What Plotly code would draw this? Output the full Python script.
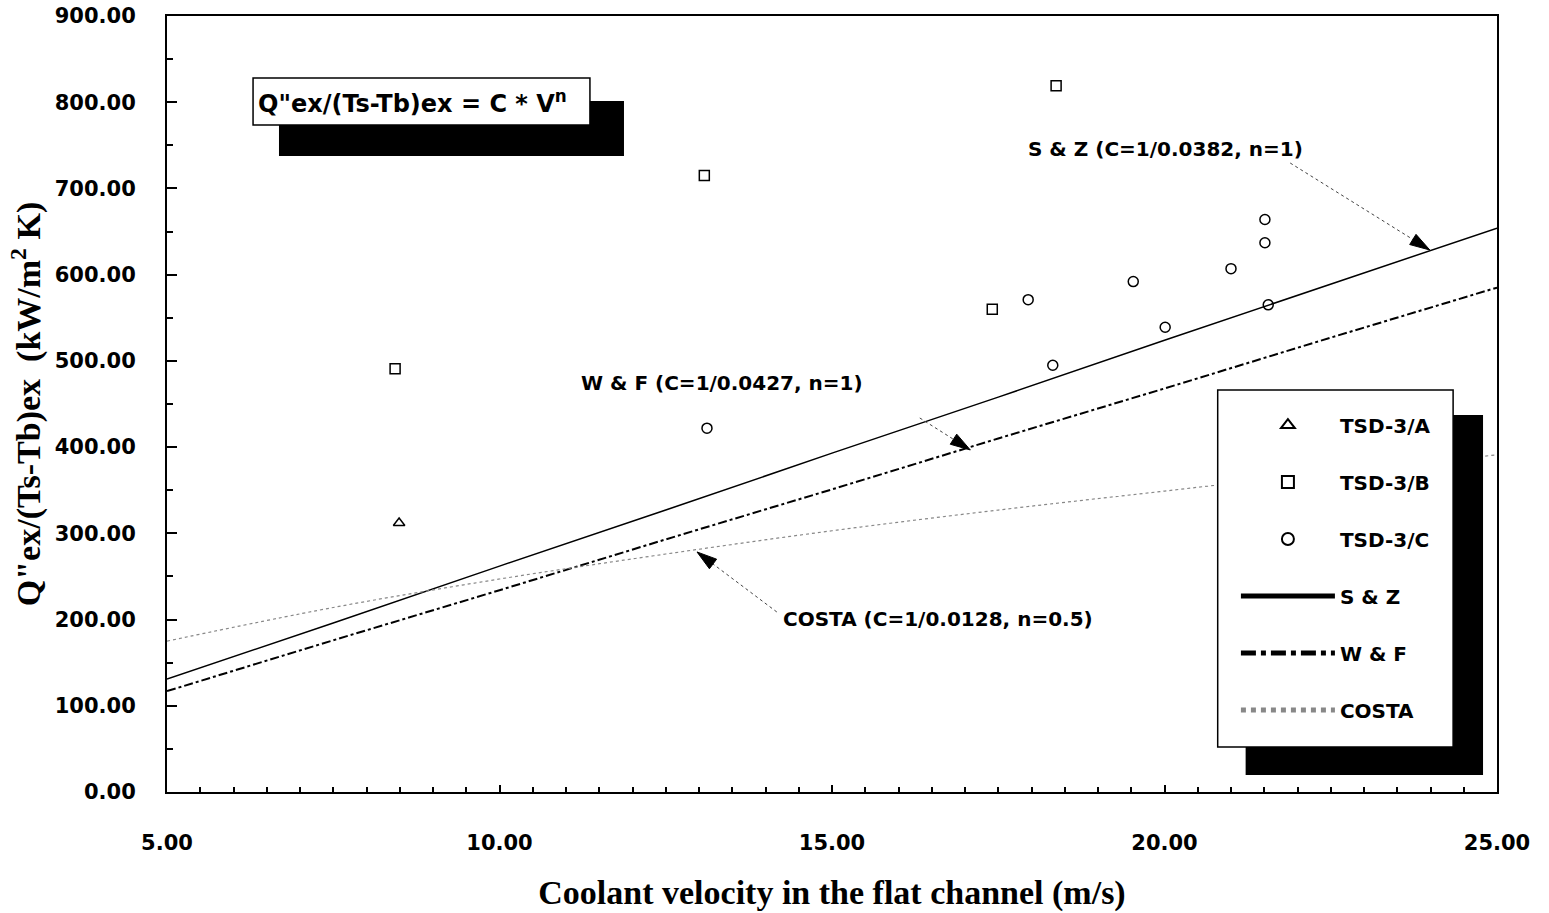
import plotly.graph_objects as go

# ---------------- data ----------------
a_v = [8.49]
a_h = [312]

b_v = [8.43, 13.08, 17.41, 18.37]
b_h = [491, 715, 560, 819]

c_v = [13.12, 17.95, 18.32, 19.53, 20.01, 21.00, 21.51, 21.51, 21.56]
c_h = [422, 571, 495, 592, 539, 607, 637, 664, 565]

model_v = [5, 7.5, 10, 12.5, 15, 17.5, 20, 22.5, 25]
sz_h = [131, 196, 262, 327, 393, 458, 524, 589, 654]
wf_h = [117, 176, 234, 293, 351, 410, 468, 527, 585]
costa_h = [175, 214, 247, 276, 303, 327, 349, 371, 391]

x_ticks = [5, 10, 15, 20, 25]
y_ticks = [0, 100, 200, 300, 400, 500, 600, 700, 800, 900]

SANS = "DejaVu Sans, Arial, sans-serif"
SERIF = "Liberation Serif, Times New Roman, serif"

fig = go.Figure()

mk = dict(color="black", size=10, line=dict(color="black", width=1.5))
fig.add_trace(go.Scatter(x=a_v, y=a_h, mode="markers", name="<b>TSD-3/A</b>", legendgroup="a",
                         marker=dict(symbol="triangle-up-open", **mk)))
fig.add_trace(go.Scatter(x=b_v, y=b_h, mode="markers", name="<b>TSD-3/B</b>", legendgroup="b",
                         marker=dict(symbol="square-open", **mk)))
fig.add_trace(go.Scatter(x=c_v, y=c_h, mode="markers", name="<b>TSD-3/C</b>", legendgroup="c",
                         marker=dict(symbol="circle-open", **mk)))
fig.add_trace(go.Scatter(x=model_v, y=sz_h, mode="lines", name="<b>S & Z</b>", legendgroup="d",
                         line=dict(color="black", width=1.5)))
fig.add_trace(go.Scatter(x=model_v, y=wf_h, mode="lines", name="<b>W & F</b>", legendgroup="e",
                         line=dict(color="black", width=2, dash="dashdot")))
fig.add_trace(go.Scatter(x=model_v, y=costa_h, mode="lines", name="<b>COSTA</b>", legendgroup="f",
                         line=dict(color="#888888", width=1.2, dash="dot", shape="spline")))

shapes = []
# equation box shadow + box
shapes.append(dict(type="rect", xref="paper", yref="paper", x0=0.0842, x1=0.3436, y0=0.8196, y1=0.8905,
                   fillcolor="black", line=dict(width=0), layer="above"))
shapes.append(dict(type="rect", xref="paper", yref="paper", x0=0.0647, x1=0.318, y0=0.8595, y1=0.920,
                   fillcolor="white", line=dict(color="black", width=1.5), layer="above"))
# legend shadow + box
shapes.append(dict(type="rect", xref="paper", yref="paper", x0=0.811, x1=0.9895, y0=0.0219, y1=0.4858,
                   fillcolor="black", line=dict(width=0), layer="above"))
shapes.append(dict(type="rect", xref="paper", yref="paper", x0=0.790, x1=0.967, y0=0.058, y1=0.518,
                   fillcolor="white", line=dict(color="black", width=1.5), layer="above"))

# dotted arrow shafts (tail -> head, data coords) + filled arrowheads (screen direction)
arrows = [
    ((21.89, 729.5), (23.99, 628.6), (0.849, 0.528)),
    ((16.32, 433.8), (17.08, 396.7), (0.842, 0.539)),
    ((14.17, 208.8), (12.97, 278.4), (-0.80, -0.60)),
]
L, W = 20, 6
for (tx, ty), (hx, hy), (dx, dy) in arrows:
    shapes.append(dict(type="line", xref="x", yref="y", x0=tx, y0=ty, x1=hx, y1=hy,
                       line=dict(color="#444444", width=1, dash="dot"), layer="above"))
    ux, uy = dx, -dy  # upward-positive pixel coordinates
    px, py = -uy, ux
    bx, by = -L * ux, -L * uy
    p1 = (bx + W * px, by + W * py)
    p2 = (bx - W * px, by - W * py)
    path = f"M0,0 L{p1[0]:.2f},{p1[1]:.2f} L{p2[0]:.2f},{p2[1]:.2f} Z"
    shapes.append(dict(type="path", xref="x", yref="y", xsizemode="pixel", ysizemode="pixel",
                       xanchor=hx, yanchor=hy, path=path, fillcolor="black",
                       line=dict(color="black", width=1), layer="above"))

lab_font = dict(family=SANS, size=20, color="black")
annotations = [
    dict(x=20.01, y=745.8, xref="x", yref="y", text="<b>S & Z (C=1/0.0382, n=1)</b>",
         showarrow=False, font=lab_font),
    dict(x=13.35, y=474.4, xref="x", yref="y", text="<b>W & F (C=1/0.0427, n=1)</b>",
         showarrow=False, font=lab_font),
    dict(x=16.59, y=200.6, xref="x", yref="y", text="<b>COSTA (C=1/0.0128, n=0.5)</b>",
         showarrow=False, font=lab_font),
    dict(x=0.067, y=0.889, xref="paper", yref="paper", xanchor="left", yanchor="middle",
         text="<b>Q\"ex/(Ts-Tb)ex = C * V<sup>n</sup></b>", showarrow=False,
         font=dict(family=SANS, size=24, color="black")),
]

fig.update_layout(
    width=1549, height=913,
    margin=dict(l=167, r=52, t=16, b=121, autoexpand=False),
    paper_bgcolor="white", plot_bgcolor="white",
    showlegend=True,
    legend=dict(x=0.8037, y=0.498, xanchor="left", yanchor="top",
                bgcolor="rgba(0,0,0,0)", borderwidth=0,
                font=dict(family=SANS, size=20, color="black"),
                tracegroupgap=28, itemwidth=94, itemsizing="constant"),
    shapes=shapes,
    annotations=annotations,
)

fig.update_xaxes(
    range=[5, 25], tickvals=x_ticks, ticktext=[f"<b>{v:.2f}</b>" for v in x_ticks],
    ticks="inside", ticklen=7, tickwidth=1.5, tickcolor="black",
    minor=dict(dtick=0.5, ticks="inside", ticklen=5, tickwidth=1.5, tickcolor="black"),
    showline=True, linecolor="black", linewidth=2, mirror=True, showgrid=False, zeroline=False,
    tickfont=dict(family=SANS, size=21, color="black"), ticklabelstandoff=31, automargin=False,
    title=dict(text="<b>Coolant velocity in the flat channel (m/s)</b>",
               font=dict(family=SERIF, size=34, color="black"), standoff=26),
)
fig.update_yaxes(
    range=[0, 900], tickvals=y_ticks, ticktext=[f"<b>{v:.2f}</b>" for v in y_ticks],
    ticks="inside", ticklen=10, tickwidth=1.5, tickcolor="black",
    minor=dict(dtick=50, ticks="inside", ticklen=6, tickwidth=1.5, tickcolor="black"),
    showline=True, linecolor="black", linewidth=2, mirror=True, showgrid=False, zeroline=False,
    tickfont=dict(family=SANS, size=21, color="black"), ticklabelstandoff=25, automargin=False,
    title=dict(text="<b>Q\"ex/(Ts-Tb)ex  (kW/m<sup>2</sup> K)</b>",
               font=dict(family=SERIF, size=34, color="black"), standoff=4),
)

fig.write_html("out.html")
